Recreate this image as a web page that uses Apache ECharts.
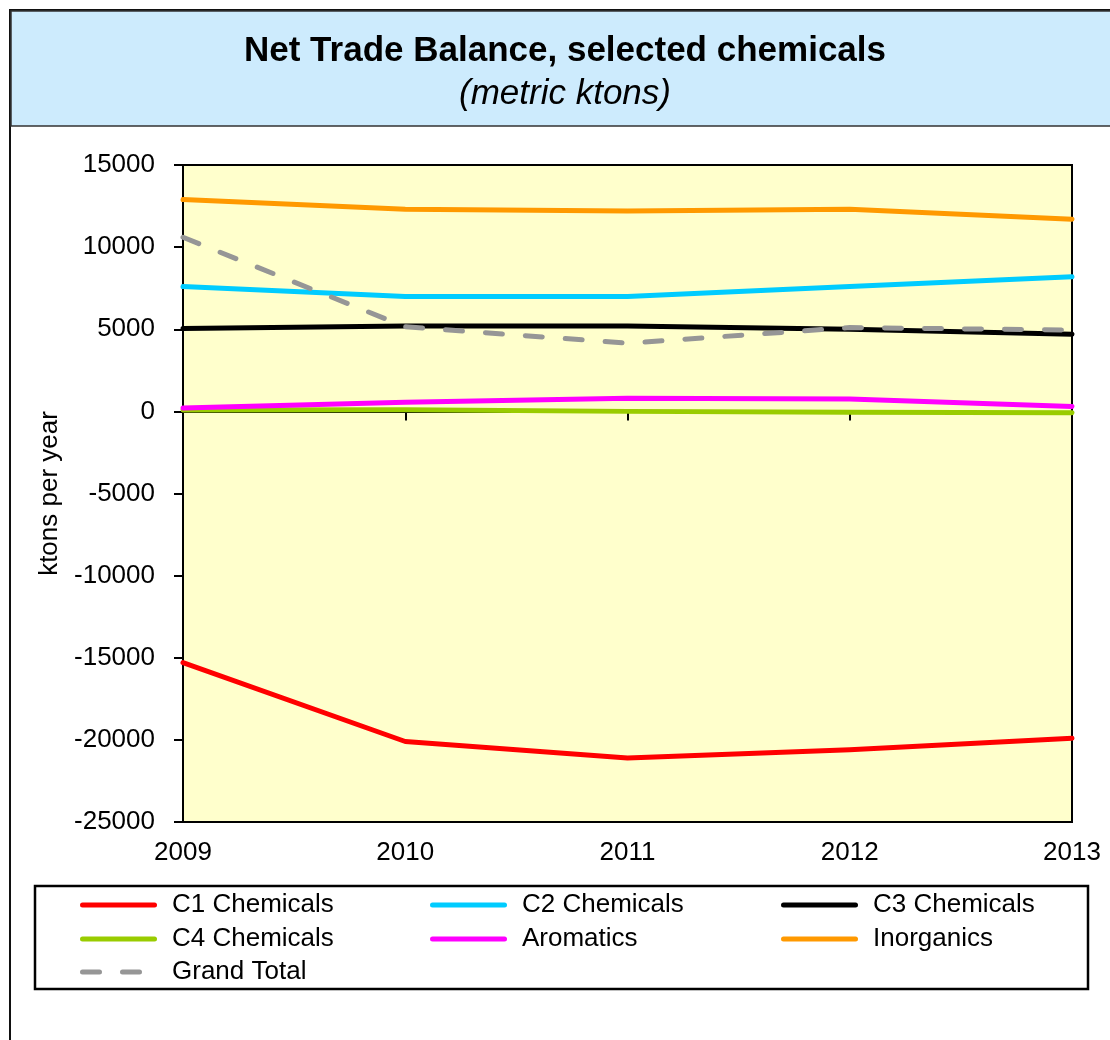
<!DOCTYPE html>
<html>
<head>
<meta charset="utf-8">
<script src="https://cdn.jsdelivr.net/npm/echarts@6/dist/echarts.min.js"></script>
<style>
    html, body { margin: 0; padding: 0; background: #fff; }
    #chart { width: 1110px; height: 1040px; }
</style>
</head>
<body>
<div id="chart"></div>
<script>
// categories and values
const years = ['2009', '2010', '2011', '2012', '2013'];
const c1Chemicals = [-15300, -20100, -21100, -20600, -19900];
const c2Chemicals = [7600, 7000, 7000, 7600, 8200];
const c3Chemicals = [5050, 5200, 5200, 5000, 4700];
const c4Chemicals = [80, 100, 0, -50, -80];
const aromatics = [200, 550, 800, 750, 300];
const inorganics = [12900, 12300, 12200, 12300, 11700];
const grandTotal = [10600, 5150, 4150, 5100, 4950];

const font = "'Liberation Sans', Arial, sans-serif";
const smallSize = 26;

const mkLine = (name, data, color, dashed) => ({
    name: name,
    type: 'line',
    data: data,
    symbol: 'none',
    xAxisIndex: 0,
    lineStyle: {
        color: color,
        width: 5,
        type: dashed ? [17, 23] : 'solid',
        cap: 'round',
        join: 'round'
    },
    itemStyle: { color: color },
    z: dashed ? 5 : 3
});

// rounded bar for solid legend keys, two rounded dashes for the dashed one
const solidIcon = 'path://M2.5,0h72a2.5,2.5 0 0 1 0,5h-72a2.5,2.5 0 0 1 0,-5z';
const dashIcon = 'path://M2.5,0h17a2.5,2.5 0 0 1 0,5h-17a2.5,2.5 0 0 1 0,-5z M42.5,0h17a2.5,2.5 0 0 1 0,5h-17a2.5,2.5 0 0 1 0,-5z';

const legendBase = {
    orient: 'vertical',
    padding: 0,
    itemWidth: 77,
    itemHeight: 5,
    itemGap: 4,
    icon: solidIcon,
    textStyle: {
        fontFamily: font,
        fontSize: smallSize,
        lineHeight: 30,
        color: '#000',
        padding: [0, 0, 0, 10]
    }
};

const chart = echarts.init(document.getElementById('chart'));
chart.setOption({
    animation: false,
    backgroundColor: '#fff',
    title: {
        text: 'Net Trade Balance, selected chemicals',
        subtext: '(metric ktons)',
        left: 560,
        textAlign: 'center',
        top: 29,
        itemGap: 8,
        textStyle: { fontFamily: font, fontSize: 35, fontWeight: 'bold', color: '#000' },
        subtextStyle: { fontFamily: font, fontSize: 35, fontStyle: 'italic', color: '#000' }
    },
    graphic: [
        // outer frame + title band
        { type: 'rect', z: -10, shape: { x: 10, y: 10, width: 1200, height: 1200 },
          style: { fill: '#fff', stroke: '#111', lineWidth: 2 } },
        { type: 'rect', z: -9, shape: { x: 11, y: 11, width: 1200, height: 115 },
          style: { fill: '#cdebfd', stroke: '#333', lineWidth: 1.5 } },
        // legend box
        { type: 'rect', z: -8, shape: { x: 35, y: 886, width: 1053, height: 103 },
          style: { fill: '#fff', stroke: '#000', lineWidth: 2.5 } }
    ],
    legend: [
        Object.assign({}, legendBase, { left: 80, top: 890, data: ['C1 Chemicals', 'C4 Chemicals'] }),
        Object.assign({}, legendBase, {
            left: 80, top: 957, itemWidth: 62, icon: dashIcon, data: ['Grand Total'],
            textStyle: Object.assign({}, legendBase.textStyle, { padding: [0, 0, 0, 25] })
        }),
        Object.assign({}, legendBase, { left: 430, top: 890, data: ['C2 Chemicals', 'Aromatics'] }),
        Object.assign({}, legendBase, { left: 781, top: 890, data: ['C3 Chemicals', 'Inorganics'] })
    ],
    grid: {
        left: 183,
        right: 38,
        top: 165,
        bottom: 218,
        show: true,
        backgroundColor: '#ffffcc',
        borderColor: '#000',
        borderWidth: 2
    },
    xAxis: [
        {
            // axis crossing at zero: ticks only
            type: 'category',
            data: years,
            boundaryGap: false,
            axisLine: { onZero: true, lineStyle: { color: '#000', width: 2 } },
            axisTick: { show: true, length: 9, lineStyle: { color: '#000', width: 2 } },
            axisLabel: { show: false },
            splitLine: { show: false }
        },
        {
            // labels at the bottom of the plot
            type: 'category',
            data: years,
            boundaryGap: false,
            position: 'bottom',
            axisLine: { show: false, onZero: false },
            axisTick: { show: false },
            axisLabel: { fontFamily: font, fontSize: smallSize, color: '#000', margin: 18 },
            splitLine: { show: false }
        }
    ],
    yAxis: {
        type: 'value',
        min: -25000,
        max: 15000,
        interval: 5000,
        name: 'ktons per year',
        nameLocation: 'middle',
        nameRotate: 90,
        nameGap: 98,
        nameTextStyle: { fontFamily: font, fontSize: smallSize, color: '#000' },
        axisLine: { show: true, lineStyle: { color: '#000', width: 2 } },
        axisTick: { show: true, length: 9, lineStyle: { color: '#000', width: 2 } },
        axisLabel: {
            fontFamily: font, fontSize: smallSize, color: '#000', margin: 28,
            formatter: (v) => String(v)
        },
        splitLine: { show: false }
    },
    series: [
        mkLine('C1 Chemicals', c1Chemicals, '#ff0000'),
        mkLine('C2 Chemicals', c2Chemicals, '#00ccff'),
        mkLine('C3 Chemicals', c3Chemicals, '#000000'),
        mkLine('C4 Chemicals', c4Chemicals, '#99cc00'),
        mkLine('Aromatics', aromatics, '#ff00ff'),
        mkLine('Inorganics', inorganics, '#ff9900'),
        mkLine('Grand Total', grandTotal, '#969696', true)
    ]
});
</script>
</body>
</html>
